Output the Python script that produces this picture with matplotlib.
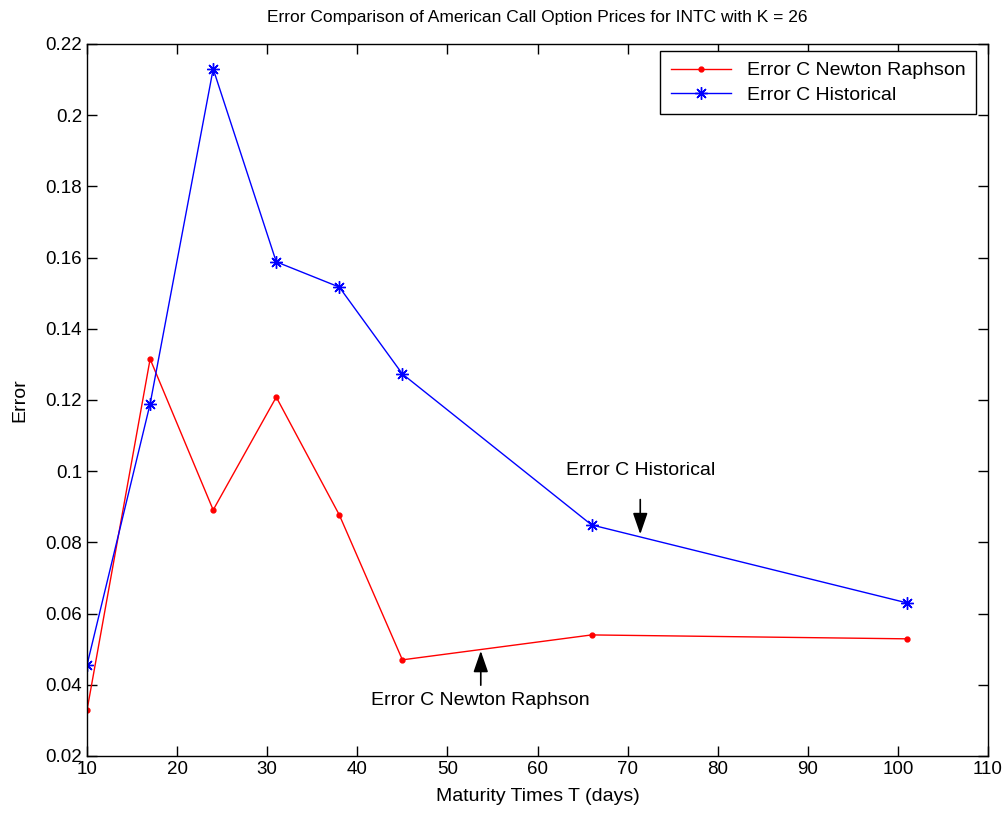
import matplotlib
matplotlib.use("Agg")
import matplotlib.pyplot as plt

plt.rcParams['font.family'] = ['Liberation Sans', 'DejaVu Sans']

maturity = [10, 17, 24, 31, 38, 45, 66, 101]
err_newton = [0.0329, 0.1315, 0.0891, 0.1208, 0.0877, 0.0470, 0.0540, 0.0529]
err_hist = [0.0456, 0.1189, 0.2130, 0.1588, 0.1517, 0.1273, 0.0849, 0.0630]
xticks = list(range(10, 111, 10))
yticks = [0.02, 0.04, 0.06, 0.08, 0.1, 0.12, 0.14, 0.16, 0.18, 0.2, 0.22]
ytick_labels = ['0.02', '0.04', '0.06', '0.08', '0.1', '0.12', '0.14', '0.16', '0.18', '0.2', '0.22']

fig = plt.figure(figsize=(10.04, 8.14), dpi=100)
ax = fig.add_axes([0.0867, 0.0713, 0.8974, 0.8747])

ax.plot(maturity, err_newton, color='red', lw=1, marker='.', markersize=7,
        label='Error C Newton Raphson')
ax.plot(maturity, err_hist, color='blue', lw=1, marker=(8, 2, 0), markersize=9,
        markeredgewidth=1, label='Error C Historical')

ax.set_xlim(10, 110)
ax.set_ylim(0.02, 0.22)
ax.set_xticks(xticks)
ax.set_yticks(yticks)
ax.set_yticklabels(ytick_labels)
ax.tick_params(direction='in', top=True, right=True, labelsize=13.5, length=7, width=1)
for s in ax.spines.values():
    s.set_linewidth(1)

ax.set_xlabel('Maturity Times T (days)', fontsize=14, labelpad=7)
ax.set_ylabel('Error', fontsize=14, labelpad=12)
ax.set_title('Error Comparison of American Call Option Prices for INTC with K = 26',
             fontsize=12.5, pad=16)

leg = ax.legend(loc='upper right', bbox_to_anchor=(0.9867, 0.990), borderaxespad=0,
                fontsize=14, fancybox=False, edgecolor='black',
                framealpha=1, handlelength=3.1, labelspacing=0.35, borderpad=0.55)
leg.get_frame().set_linewidth(1)

arrowprops = dict(arrowstyle='-|>,head_length=1.3,head_width=0.45', color='black', lw=1.2)
ax.annotate('', xy=(71.4, 0.0815), xytext=(71.4, 0.0928), arrowprops=arrowprops)
ax.text(71.4, 0.1003, 'Error C Historical', ha='center', va='center', fontsize=14)
ax.annotate('', xy=(53.7, 0.0503), xytext=(53.7, 0.0391), arrowprops=arrowprops)
ax.text(53.7, 0.0357, 'Error C Newton Raphson', ha='center', va='center', fontsize=14)

fig.savefig('out.png', dpi=100)
